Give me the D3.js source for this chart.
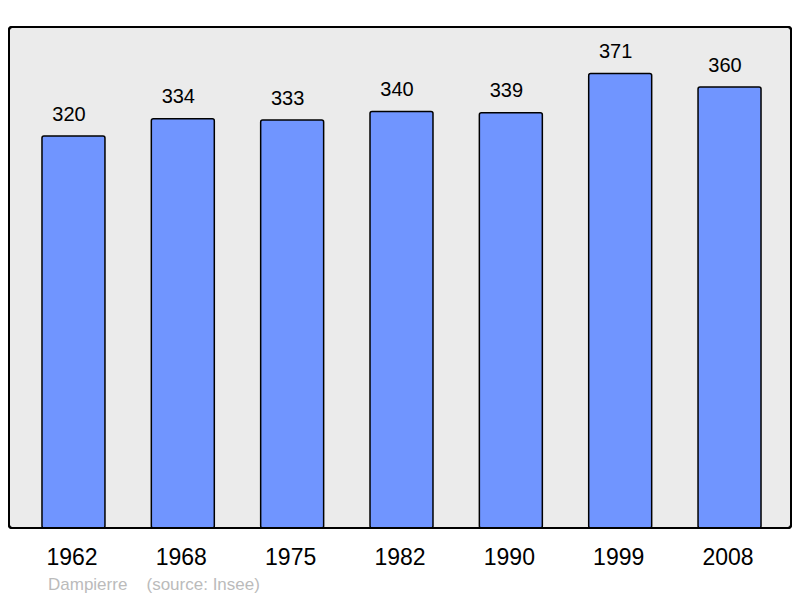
<!DOCTYPE html>
<html><head><meta charset="utf-8">
<script src="https://cdn.jsdelivr.net/npm/d3@7"></script>
<style>html,body{margin:0;padding:0;background:#fff;}svg{display:block;}</style>
</head><body>
<script>
const years = ["1962","1968","1975","1982","1990","1999","2008"];
const population = [320,334,333,340,339,371,360];
const commune = "Dampierre";
const source = "(source: Insee)";

const W = 800, H = 598;
const svg = d3.select("body").append("svg").attr("width", W).attr("height", H);
const font = "'Liberation Sans', Arial, sans-serif";

const plot = {x0: 9, x1: 791, y0: 27, y1: 528};
svg.append("rect").attr("x", plot.x0).attr("y", plot.y0)
  .attr("width", plot.x1 - plot.x0).attr("height", plot.y1 - plot.y0)
  .attr("rx", 3).attr("fill", "#ebebeb").attr("stroke", "#000").attr("stroke-width", 2);

const x = d3.scaleBand().domain(years).range([18.8, 784.2]).paddingInner(0.424).paddingOuter(0.212);
const y = d3.scaleLinear().domain([0, 409]).range([plot.y1, plot.y0]);

svg.selectAll("rect.bar").data(population).join("rect").attr("class", "bar")
  .attr("x", (d, i) => x(years[i])).attr("width", x.bandwidth())
  .attr("y", d => y(d)).attr("height", d => y(0) - y(d))
  .attr("rx", 2).attr("fill", "#7095ff").attr("stroke", "#000").attr("stroke-width", 1.5);

svg.selectAll("text.val").data(population).join("text").attr("class", "val")
  .attr("x", (d, i) => x(years[i]) + x.bandwidth() / 2 - 4.5).attr("y", d => y(d) - 15.5)
  .attr("text-anchor", "middle").attr("font-family", font).attr("font-size", 20)
  .attr("fill", "#000").text(d => d);

// redraw frame border over bars bottom
svg.append("rect").attr("x", plot.x0).attr("y", plot.y0)
  .attr("width", plot.x1 - plot.x0).attr("height", plot.y1 - plot.y0)
  .attr("rx", 3).attr("fill", "none").attr("stroke", "#000").attr("stroke-width", 2);

const xAxis = svg.append("g").attr("transform", `translate(0,${plot.y1})`)
  .call(d3.axisBottom(x).tickSize(0).tickPadding(0));
xAxis.select(".domain").remove();
xAxis.selectAll("text").attr("font-family", font).attr("font-size", 23).attr("fill", "#000")
  .attr("dy", null).attr("y", 37).attr("x", -1.5);

svg.append("text").attr("x", 48).attr("y", 589.5).attr("font-family", font).attr("font-size", 17)
  .attr("fill", "#bbbbbb").text(commune);
svg.append("text").attr("x", 146.5).attr("y", 589.5).attr("font-family", font).attr("font-size", 17)
  .attr("fill", "#bbbbbb").text(source);
</script>
</body></html>
